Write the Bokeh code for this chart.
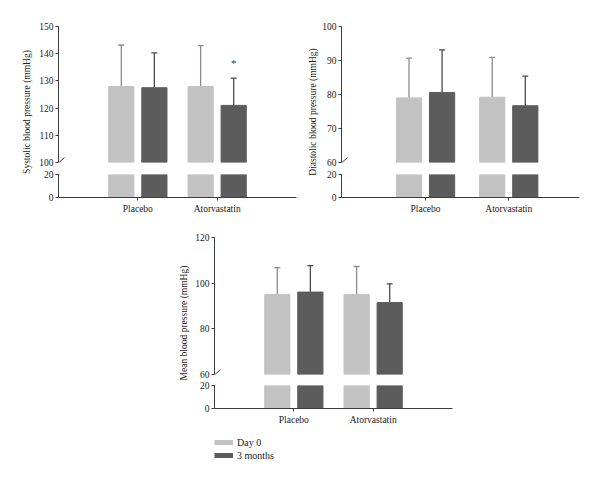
from bokeh.plotting import figure
from bokeh.layouts import row, column
from bokeh.models import (Range1d, FixedTicker, Title, Arrow, Legend, LegendItem,
                          ColumnDataSource, Whisker, TeeHead)
from bokeh.embed import file_html
from bokeh.resources import INLINE

# ---------------- data ----------------
categories = ["Placebo", "Atorvastatin"]
series_names = ["Day 0", "3 months"]

systolic_day0 = [127.9, 127.9]
systolic_day0_sd = [15.3, 15.1]
systolic_3m = [127.5, 121.0]
systolic_3m_sd = [12.8, 10.0]
systolic_3m_sig = ["", "*"]

diastolic_day0 = [79.0, 79.2]
diastolic_day0_sd = [11.7, 11.7]
diastolic_3m = [80.6, 76.7]
diastolic_3m_sd = [12.5, 8.7]

mean_day0 = [95.1, 95.1]
mean_day0_sd = [11.7, 12.2]
mean_3m = [96.1, 91.5]
mean_3m_sd = [11.6, 8.2]

systolic_ticks = [100, 110, 120, 130, 140, 150]
diastolic_ticks = [60, 70, 80, 90, 100]
mean_ticks = [60, 80, 100, 120]
lower_ticks = [0, 20]

# ---------------- style ----------------
FONT = "Liberation Serif"
LIGHT = "#c2c2c2"
DARK = "#5c5c5c"
WHISK_LIGHT = "#8c8c8c"
WHISK_DARK = "#4a4a4a"
AXIS = "#3c3c3c"
TXT = "#222222"
FS = "9.5px"


def style_axis(ax):
    ax.axis_line_color = AXIS
    ax.major_tick_line_color = AXIS
    ax.major_tick_out = 3
    ax.major_tick_in = 0
    ax.minor_tick_line_color = None
    ax.major_label_text_font = FONT
    ax.major_label_text_font_size = FS
    ax.major_label_text_color = TXT
    ax.major_label_standoff = 2


def base_fig(w, h, xr, yr, ml, mr, mt, mb, xaxis=True, yaxis=True):
    p = figure(width=w, height=h, x_range=xr, y_range=yr,
               output_backend="svg", toolbar_location=None,
               x_axis_location="below" if xaxis else None,
               y_axis_location="left" if yaxis else None)
    p.min_border_left = ml
    p.min_border_right = mr
    p.min_border_top = mt
    p.min_border_bottom = mb
    p.outline_line_color = None
    p.grid.visible = False
    return p


def make_panel(label, up_ticks, day0, day0_sd, m3, m3_sd, xr, ppu,
               label_w, label_standoff, up_mt, up_frame, up_mb, lo_mt, lo_mb,
               mr, sig=None, legend=False):
    frame_w = 239
    lo_frame = 23
    ml = 21
    x_c = [i + 1 for i in range(len(categories))]
    off = 16.6 / ppu
    bw = 25.3 / ppu
    x0 = [c - off for c in x_c]
    x1 = [c + off for c in x_c]
    ylo, yhi = up_ticks[0], up_ticks[-1]
    ppy = up_frame / (yhi - ylo)

    # upper part
    up = base_fig(ml + frame_w + mr, up_mt + up_frame + up_mb, Range1d(*xr),
                  Range1d(ylo, yhi), ml, mr, up_mt, up_mb, xaxis=False)
    style_axis(up.yaxis[0])
    up.yaxis[0].ticker = FixedTicker(ticks=up_ticks)
    up.vbar(x=x0, width=bw, bottom=ylo, top=day0, color=LIGHT)
    up.vbar(x=x1, width=bw, bottom=ylo, top=m3, color=DARK)
    for xs, vals, sds, col in ((x0, day0, day0_sd, WHISK_LIGHT), (x1, m3, m3_sd, WHISK_DARK)):
        src = ColumnDataSource(dict(x=xs, lo=vals, hi=[v + s for v, s in zip(vals, sds)]))
        up.add_layout(Whisker(base="x", lower="lo", upper="hi", source=src,
                              line_color=col, line_width=1.3, lower_head=None,
                              upper_head=TeeHead(size=6, line_color=col, line_width=1.3)))
    if sig is not None:
        up.text(x=[x for x, s in zip(x1, sig) if s],
                y=[v + s for v, s, g in zip(m3, m3_sd, sig) if g],
                text=[g for g in sig if g], y_offset=-15, text_align="center",
                text_baseline="middle", text_font=FONT, text_font_size="11px",
                text_color="#3a3a3a")
    # break slash on upper axis
    dxl, dxr, dy = 5.0 / ppu, 6.0 / ppu, 5.0 / ppy
    up.add_layout(Arrow(end=None, x_start=xr[0] - dxl, y_start=ylo - dy,
                        x_end=xr[0] + dxr, y_end=ylo + dy, line_color=AXIS, line_width=1))

    # lower part
    lo_top = lower_ticks[-1]
    lo = base_fig(ml + frame_w + mr, lo_mt + lo_frame + lo_mb, up.x_range,
                  Range1d(lower_ticks[0], lo_top), ml, mr, lo_mt, lo_mb)
    style_axis(lo.yaxis[0])
    style_axis(lo.xaxis[0])
    lo.yaxis[0].ticker = FixedTicker(ticks=lower_ticks)
    lo.xaxis[0].ticker = FixedTicker(ticks=x_c)
    lo.xaxis[0].major_label_overrides = {c: n for c, n in zip(x_c, categories)}
    lo.xaxis[0].major_label_standoff = 3
    lo.vbar(x=x0, width=bw, bottom=0, top=lo_top, color=LIGHT)
    lo.vbar(x=x1, width=bw, bottom=0, top=lo_top, color=DARK)
    dy2 = 5.0 / (lo_frame / lo_top)
    lo.add_layout(Arrow(end=None, x_start=xr[0] - dxl, y_start=lo_top - dy2,
                        x_end=xr[0] + dxr, y_end=lo_top + dy2, line_color=AXIS, line_width=1))

    # label column
    total_h = up.height + lo.height
    lab = base_fig(label_w, total_h, Range1d(0, 1), Range1d(0, 1),
                   label_w - 1, 0, up_mt, total_h - up_mt - (up_frame + up_mb + lo_mt + lo_frame),
                   xaxis=False, yaxis=False)
    lab.add_layout(Title(text=label, align="center", text_font=FONT, text_font_size=FS,
                         text_font_style="normal", text_color=TXT,
                         standoff=label_standoff), "left")

    stack = [up, lo]
    if legend:
        # legend strip: key-only line renderers (no drawable points)
        lg = base_fig(ml + frame_w + mr, 36, up.x_range, Range1d(lower_ticks[0], lo_top),
                      ml, mr, 4, 0, xaxis=False, yaxis=False)
        nan = float("nan")
        g0 = lg.line(x=x0, y=[nan] * len(x0), line_width=5, line_color=LIGHT)
        g1 = lg.line(x=x1, y=[nan] * len(x1), line_width=5, line_color=DARK)
        leg = Legend(items=[LegendItem(label=series_names[0], renderers=[g0]),
                            LegendItem(label=series_names[1], renderers=[g1])],
                     location="top_left", orientation="vertical", margin=0, padding=0,
                     spacing=1, glyph_width=19, glyph_height=6, label_height=12,
                     label_standoff=4, label_text_font=FONT, label_text_font_size="10px",
                     label_text_color=TXT, border_line_color=None,
                     background_fill_alpha=0)
        lg.add_layout(leg, "center")
        stack.append(lg)
    return row(lab, column(*stack))


p1 = make_panel("Systolic blood pressure (mmHg)", systolic_ticks,
                systolic_day0, systolic_day0_sd, systolic_3m, systolic_3m_sd,
                (0.0, 3.0), 239 / 3.0, label_w=36, label_standoff=8,
                up_mt=26, up_frame=136, up_mb=6, lo_mt=6, lo_mb=24, mr=4,
                sig=systolic_3m_sig)
p2 = make_panel("Diastolic blood pressure (mmHg)", diastolic_ticks,
                diastolic_day0, diastolic_day0_sd, diastolic_3m, diastolic_3m_sd,
                (-0.01, 2.85), 239 / 2.86, label_w=19, label_standoff=1,
                up_mt=26, up_frame=136, up_mb=6, lo_mt=6, lo_mb=24, mr=8)
p3 = make_panel("Mean blood pressure (mmHg)", mean_ticks,
                mean_day0, mean_day0_sd, mean_3m, mean_3m_sd,
                (0.0, 3.0), 239 / 3.0, label_w=192, label_standoff=6,
                up_mt=16, up_frame=137, up_mb=6, lo_mt=5, lo_mb=24, mr=8,
                legend=True)

layout = column(row(p1, p2), p3)

with open("out.html", "w") as f:
    f.write(file_html(layout, INLINE))
